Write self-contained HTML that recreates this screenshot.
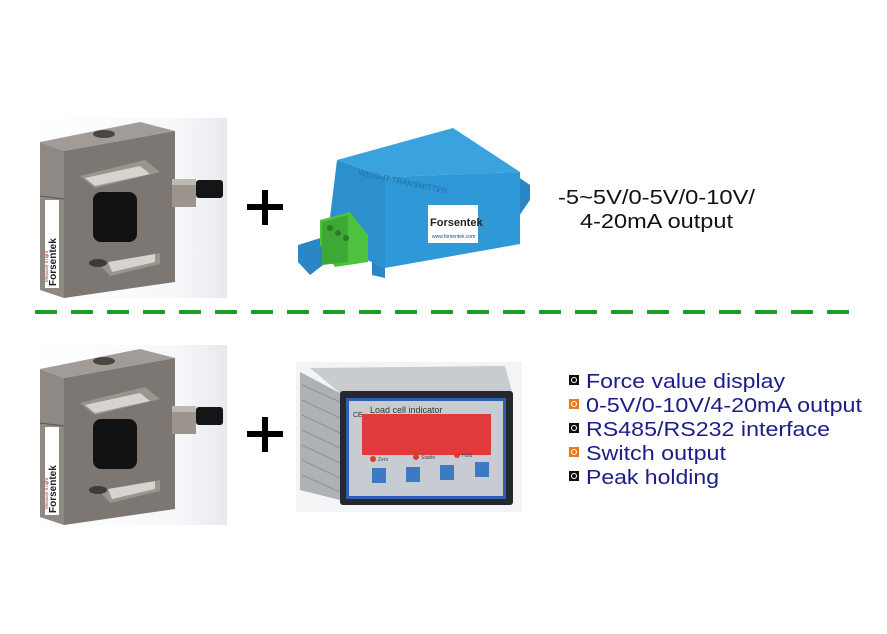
<!DOCTYPE html>
<html><head><meta charset="utf-8"><style>
html,body{margin:0;padding:0;background:#fff;}
svg{display:block;font-family:"Liberation Sans",sans-serif;}
</style></head><body>
<svg width="887" height="634" viewBox="0 0 887 634" xmlns="http://www.w3.org/2000/svg">
<defs>
<linearGradient id="bg" x1="0" x2="1"><stop offset="0" stop-color="#fff"/><stop offset="0.75" stop-color="#f6f7f9"/><stop offset="1" stop-color="#e6e9ee"/></linearGradient>
<g id="cell">
  <rect x="35" y="118" width="192" height="180" fill="url(#bg)"/>
  <polygon points="40,142 140,122 175,131 64,151" fill="#a19c97"/>
  <ellipse cx="104" cy="134" rx="11" ry="4" fill="#4a4642"/>
  <polygon points="40,142 64,151 64,298 40,290" fill="#8e8984"/>
  <polygon points="64,151 175,131 175,282 64,298" fill="#7c7772"/>
  <line x1="40" y1="196" x2="64" y2="199" stroke="#5a5652" stroke-width="1"/>
  <rect x="45" y="200" width="14" height="88" fill="#fff"/>
  <text transform="translate(56,286) rotate(-90)" font-size="10" font-weight="bold" fill="#222">Forsentek</text>
  <text transform="translate(48,282) rotate(-90)" font-size="4.5" fill="#a33">Measure it right</text>
  <polygon points="80,176 145,160 160,172 95,188" fill="#9a958f"/>
  <polygon points="85,178 140,166 150,174 95,186" fill="#d7d4d0"/>
  <rect x="93" y="192" width="44" height="50" rx="8" fill="#121212"/>
  <polygon points="100,265 160,253 160,264 110,276" fill="#9a958f"/>
  <polygon points="108,262 155,254 155,262 112,272" fill="#d7d4d0"/>
  <ellipse cx="98" cy="263" rx="9" ry="4" fill="#3e3b38"/>
  <rect x="172" y="179" width="24" height="28" fill="#9b958d"/>
  <rect x="172" y="179" width="24" height="6" fill="#bdb8b0"/>
  <rect x="196" y="180" width="27" height="18" rx="3" fill="#151515"/>
  <rect x="247" y="204" width="36" height="6" fill="#000"/>
  <rect x="262" y="190" width="6" height="35" fill="#000"/>
</g>
</defs>
<use href="#cell"/>
<use href="#cell" y="227"/>

<!-- transmitter -->
<polygon points="298,245 327,236 327,262 310,275 298,262" fill="#2b86c5"/>
<polygon points="508,170 530,185 530,200 508,232" fill="#2a86c6"/>
<polygon points="337,160 453,128 520,172 385,177" fill="#3aa2dc"/>
<polygon points="337,160 385,177 385,268 327,242" fill="#2c8fce"/>
<polygon points="385,177 520,172 520,244 385,268" fill="#2f98d6"/>
<polygon points="372,262 385,268 385,278 372,275" fill="#2a86c6"/>
<rect x="428" y="205" width="50" height="38" fill="#fff"/>
<text x="430" y="226" font-size="11" font-weight="bold" fill="#222">Forsentek</text>
<text x="432" y="238" font-size="5" fill="#1a4aa0">www.forsentek.com</text>
<text transform="translate(358,175) rotate(12)" font-size="8" fill="#1e6fa6">WEIGHT TRANSMITTER</text>
<polygon points="320,220 350,212 368,235 368,262 335,267 320,245" fill="#4cc23e"/>
<polygon points="322,222 348,215 348,262 322,265" fill="#3ea834"/>
<circle cx="330" cy="228" r="3" fill="#2d7a28"/><circle cx="338" cy="233" r="3" fill="#2d7a28"/><circle cx="346" cy="238" r="3" fill="#2d7a28"/>
<text x="558" y="204" font-size="20" fill="#111" textLength="197" lengthAdjust="spacingAndGlyphs">-5~5V/0-5V/0-10V/</text>
<text x="580" y="228" font-size="20" fill="#111" textLength="153" lengthAdjust="spacingAndGlyphs">4-20mA output</text>

<!-- dashed line -->
<line x1="35" y1="312" x2="860" y2="312" stroke="#1aa02a" stroke-width="4" stroke-dasharray="22,14"/>

<!-- indicator -->
<rect x="296" y="362" width="226" height="150" fill="#f3f4f6"/>
<polygon points="310,368 505,366 512,392 340,393" fill="#c9cccf"/>
<polygon points="300,372 340,393 340,500 300,490" fill="#aeb2b6"/>
<g stroke="#8f9397" stroke-width="1">
<line x1="302" y1="385" x2="340" y2="402"/><line x1="302" y1="400" x2="340" y2="418"/><line x1="302" y1="415" x2="340" y2="433"/><line x1="302" y1="430" x2="340" y2="448"/><line x1="302" y1="445" x2="340" y2="463"/><line x1="302" y1="460" x2="340" y2="478"/><line x1="302" y1="475" x2="340" y2="492"/>
</g>
<rect x="340" y="391" width="173" height="114" rx="3" fill="#25292d"/>
<rect x="346" y="398" width="160" height="101" fill="#2f5fb0"/>
<rect x="349" y="401" width="154" height="95" fill="#c7ccd3"/>
<text x="370" y="413" font-size="9" fill="#333">Load cell indicator</text>
<text x="353" y="417" font-size="7" fill="#333">CE</text>
<rect x="362" y="414" width="129" height="41" fill="#e23a3a"/>
<circle cx="373" cy="459" r="3" fill="#e03a2a"/><text x="378" y="461" font-size="5" fill="#444">Zero</text>
<circle cx="416" cy="457" r="3" fill="#e03a2a"/><text x="421" y="459" font-size="5" fill="#444">Stable</text>
<circle cx="457" cy="455" r="3" fill="#e03a2a"/><text x="462" y="457" font-size="5" fill="#444">Hold</text>
<rect x="372" y="468" width="14" height="15" fill="#3e79c4"/>
<rect x="406" y="467" width="14" height="15" fill="#3e79c4"/>
<rect x="440" y="465" width="14" height="15" fill="#3e79c4"/>
<rect x="475" y="462" width="14" height="15" fill="#3e79c4"/>

<!-- bullets -->
<g font-size="20" fill="#1c1c8a">
<text x="586" y="388" textLength="199" lengthAdjust="spacingAndGlyphs">Force value display</text>
<text x="586" y="412" textLength="276" lengthAdjust="spacingAndGlyphs">0-5V/0-10V/4-20mA output</text>
<text x="586" y="436" textLength="244" lengthAdjust="spacingAndGlyphs">RS485/RS232 interface</text>
<text x="586" y="460" textLength="140" lengthAdjust="spacingAndGlyphs">Switch output</text>
<text x="586" y="484" textLength="133" lengthAdjust="spacingAndGlyphs">Peak holding</text>
</g>
<g>
<rect x="569" y="375" width="10" height="10" fill="#111"/><circle cx="574" cy="380" r="3" fill="#fff"/><circle cx="574" cy="380" r="2" fill="#111"/>
<rect x="569" y="399" width="10" height="10" fill="#e87a1e"/><circle cx="574" cy="404" r="3" fill="#fff"/><circle cx="574" cy="404" r="2" fill="#e87a1e"/>
<rect x="569" y="423" width="10" height="10" fill="#111"/><circle cx="574" cy="428" r="3" fill="#fff"/><circle cx="574" cy="428" r="2" fill="#111"/>
<rect x="569" y="447" width="10" height="10" fill="#e87a1e"/><circle cx="574" cy="452" r="3" fill="#fff"/><circle cx="574" cy="452" r="2" fill="#e87a1e"/>
<rect x="569" y="471" width="10" height="10" fill="#111"/><circle cx="574" cy="476" r="3" fill="#fff"/><circle cx="574" cy="476" r="2" fill="#111"/>
</g>
</svg>
</body></html>
